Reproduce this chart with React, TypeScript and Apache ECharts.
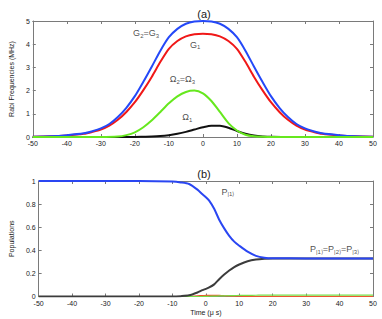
import React, { useEffect, useRef } from "react";
import * as echarts from "echarts";

// Panel (a): Rabi frequencies (MHz) vs time (µs)
const xA = [-50, -45, -40, -35, -32.5, -30, -27.5, -25, -22.5, -20, -17.5, -15, -12.5, -10, -7.5, -5, -2.5, 0, 2.5, 5, 7.5, 10, 12.5, 15, 17.5, 20, 22.5, 25, 27.5, 30, 32.5, 35, 40, 45, 50];
const blueG23 = [0.01, 0.03, 0.08, 0.16, 0.25, 0.37, 0.56, 0.86, 1.26, 1.76, 2.38, 3.04, 3.72, 4.3, 4.66, 4.88, 4.98, 5.0, 4.98, 4.88, 4.66, 4.3, 3.72, 3.04, 2.38, 1.76, 1.26, 0.86, 0.56, 0.37, 0.25, 0.16, 0.08, 0.03, 0.01];
const redG1 = [0.01, 0.03, 0.07, 0.14, 0.22, 0.32, 0.49, 0.74, 1.08, 1.5, 2.02, 2.6, 3.24, 3.8, 4.14, 4.34, 4.43, 4.45, 4.43, 4.34, 4.14, 3.8, 3.24, 2.6, 2.02, 1.5, 1.08, 0.74, 0.49, 0.32, 0.22, 0.14, 0.07, 0.03, 0.01];
const xOm = [-50, -40, -30, -25, -22.5, -20, -17.5, -15, -12.5, -10, -7.5, -5, -2.5, 0, 2.5, 5, 7.5, 10, 12.5, 15, 17.5, 20, 25, 30, 40, 50];
const greenOm23 = [0, 0, 0, 0.02, 0.08, 0.2, 0.42, 0.72, 1.08, 1.45, 1.75, 1.94, 2.0, 1.88, 1.55, 1.08, 0.6, 0.28, 0.1, 0.03, 0.01, 0, 0, 0, 0, 0];
const blackOm1 = [0, 0, 0, 0, 0, 0, 0.01, 0.02, 0.04, 0.08, 0.14, 0.22, 0.32, 0.42, 0.49, 0.49, 0.4, 0.26, 0.14, 0.06, 0.02, 0.01, 0, 0, 0, 0];

// Panel (b): populations vs time
const xB = [-50, -40, -30, -20, -10, -7.5, -5, -2.5, -1, 0, 1, 2.5, 4, 5.5, 7, 8.5, 10, 12.5, 15, 17.5, 20, 30, 40, 50];
const popP1 = [1, 1, 1, 1, 0.995, 0.988, 0.974, 0.925, 0.885, 0.86, 0.83, 0.76, 0.665, 0.59, 0.525, 0.475, 0.44, 0.388, 0.352, 0.336, 0.331, 0.33, 0.33, 0.329];
const popP2 = [0, 0, 0, 0, 0, 0.003, 0.01, 0.035, 0.055, 0.066, 0.078, 0.105, 0.15, 0.19, 0.225, 0.255, 0.277, 0.305, 0.32, 0.327, 0.33, 0.33, 0.33, 0.329];
const popP3 = [0, 0, 0, 0, 0, 0, 0, 0, 0, 0.001, 0.002, 0.003, 0.005, 0.006, 0.007, 0.008, 0.009, 0.01, 0.011, 0.012, 0.012, 0.012, 0.012, 0.012];
const popPe = [0, 0, 0, 0, 0, 0, 0.002, 0.006, 0.008, 0.009, 0.01, 0.01, 0.009, 0.007, 0.005, 0.003, 0.002, 0.001, 0, 0, 0, 0, 0, 0];

const xTicksMin = -50;
const xTicksMax = 50;

const FONT = "'Liberation Sans', Arial, Helvetica, sans-serif";
const FRAME = "#7a7a7a";
const TXT = "#1a1a1a";

const zip = (xs: number[], ys: number[]) => xs.map((x, i) => [x, ys[i]]);

const subRich = {
  m: { fontSize: 9, color: TXT, fontFamily: FONT },
  s: { fontSize: 6, color: TXT, fontFamily: FONT, padding: [5, 0, 0, 0] },
};

export default function App() {
  const ref = useRef<HTMLDivElement>(null);
  useEffect(() => {
    if (!ref.current) return;
    const chart = echarts.init(ref.current, null, { renderer: "svg" });

    const grids = [
      { left: 25, right: 9, top: 21, height: 116 },
      { left: 25, right: 9, top: 181, height: 115.5 },
    ];

    const xAxisBase = (gi: number, pos: string, labels: boolean) => ({
      type: "value",
      gridIndex: gi,
      position: pos,
      min: xTicksMin,
      max: xTicksMax,
      interval: 10,
      axisLine: { show: true, onZero: false, lineStyle: { color: FRAME, width: 1 } },
      axisTick: { show: true, inside: true, length: 3, lineStyle: { color: FRAME } },
      axisLabel: { show: labels, fontSize: 7, color: TXT, fontFamily: FONT, margin: 3 },
      splitLine: { show: false },
    });
    const yAxisBase = (gi: number, pos: string, labels: boolean, max: number, interval: number) => ({
      type: "value",
      gridIndex: gi,
      position: pos,
      min: 0,
      max,
      interval,
      axisLine: { show: true, onZero: false, lineStyle: { color: FRAME, width: 1 } },
      axisTick: { show: true, inside: true, length: 3, lineStyle: { color: FRAME } },
      axisLabel: { show: labels, fontSize: 7, color: TXT, fontFamily: FONT, margin: 3 },
      splitLine: { show: false },
    });

    const xAxes: any[] = [
      { ...xAxisBase(0, "bottom", true) },
      { ...xAxisBase(0, "top", false) },
      {
        ...xAxisBase(1, "bottom", true),
        name: "Time (μ s)",
        nameLocation: "middle",
        nameGap: 12,
        nameTextStyle: { fontSize: 7, color: TXT, fontFamily: FONT },
      },
      { ...xAxisBase(1, "top", false) },
    ];
    const yAxes: any[] = [
      {
        ...yAxisBase(0, "left", true, 5, 1),
        name: "Rabi Frequencies (MHz)",
        nameLocation: "middle",
        nameGap: 9,
        nameRotate: 90,
        nameTextStyle: { fontSize: 7, color: TXT, fontFamily: FONT },
      },
      { ...yAxisBase(0, "right", false, 5, 1) },
      {
        ...yAxisBase(1, "left", true, 1, 0.2),
        name: "Populations",
        nameLocation: "middle",
        nameGap: 16,
        nameRotate: 90,
        nameTextStyle: { fontSize: 7, color: TXT, fontFamily: FONT },
      },
      { ...yAxisBase(1, "right", false, 1, 0.2) },
    ];

    const line = (xi: number, yi: number, xs: number[], ys: number[], color: string, width: number, z: number) => ({
      type: "line",
      xAxisIndex: xi,
      yAxisIndex: yi,
      data: zip(xs, ys),
      showSymbol: false,
      symbol: "none",
      smooth: 0.25,
      lineStyle: { color, width },
      z,
    });

    const label = (xi: number, yi: number, x: number, y: number, text: string) => ({
      type: "scatter",
      xAxisIndex: xi,
      yAxisIndex: yi,
      symbolSize: 0,
      data: [[x, y]],
      z: 10,
      label: {
        show: true,
        position: "inside",
        formatter: text,
        rich: subRich,
      },
    });

    chart.setOption({
      animation: false,
      textStyle: { fontFamily: FONT },
      title: [
        { text: "(a)", left: 199, top: 3, textAlign: "center", textStyle: { fontSize: 11, fontWeight: "normal", color: TXT, fontFamily: FONT } },
        { text: "(b)", left: 199, top: 163, textAlign: "center", textStyle: { fontSize: 11, fontWeight: "normal", color: TXT, fontFamily: FONT } },
      ],
      grid: grids,
      xAxis: xAxes,
      yAxis: yAxes,
      series: [
        line(0, 0, xA, redG1, "#f01818", 2, 2),
        line(0, 0, xA, blueG23, "#2448f8", 2, 3),
        line(0, 0, xOm, blackOm1, "#111111", 2, 4),
        line(0, 0, xOm, greenOm23, "#66e81e", 2, 5),
        label(0, 0, -16.7, 4.48, "{m|G}{s|2}{m|=G}{s|3}"),
        label(0, 0, -2.3, 3.97, "{m|G}{s|1}"),
        label(0, 0, -6, 2.5, "{m|Ω}{s|2}{m|=Ω}{s|3}"),
        label(0, 0, -4.6, 0.86, "{m|Ω}{s|1}"),
        line(2, 2, xB, popPe, "#ee5530", 1.2, 2),
        line(2, 2, xB, popP3, "#77dd44", 1.2, 3),
        line(2, 2, xB, popP2, "#3c3c3c", 2, 4),
        line(2, 2, xB, popP1, "#2a46f2", 2, 5),
        label(2, 2, 6.6, 0.907, "{m|P}{s||1⟩}"),
        label(2, 2, 38.5, 0.41, "{m|P}{s||1⟩}{m|=P}{s||2⟩}{m|=P}{s||3⟩}"),
      ],
    });
    return () => chart.dispose();
  }, []);
  return (
    <div
      ref={ref}
      style={{ position: "fixed", left: 0, top: 0, width: 382, height: 319, background: "#fff" }}
    />
  );
}
